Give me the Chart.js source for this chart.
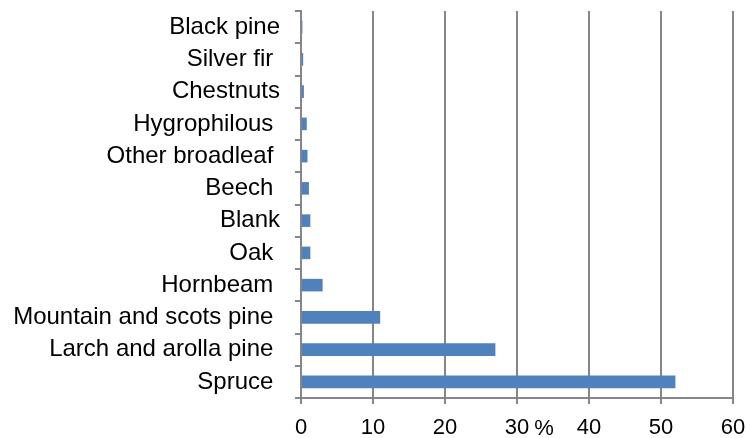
<!DOCTYPE html>
<html>
<head>
<meta charset="utf-8">
<script src="https://cdn.jsdelivr.net/npm/chart.js@4/dist/chart.umd.min.js"></script>
<style>
  html, body { margin: 0; padding: 0; background: #ffffff; }
  #wrap { width: 746px; height: 438px; }
</style>
</head>
<body>
<div id="wrap"><canvas id="c" width="746" height="438"></canvas></div>
<script>
// Forest types, listed top to bottom
const categories = [
  'Black pine', 'Silver fir ', 'Chestnuts', 'Hygrophilous ', 'Other broadleaf ',
  'Beech ', 'Blank', 'Oak ', 'Hornbeam ', 'Mountain and scots pine ',
  'Larch and arolla pine ', 'Spruce '
];
// Share of area, percent
const shares = [0.2, 0.3, 0.4, 0.8, 0.9, 1.1, 1.3, 1.3, 3.0, 11, 27, 52];
// Value axis ticks
const xTicks = [0, 10, 20, 30, 40, 50, 60];
const unitLabel = '%';
const unitTick = 30;

const FAMILY = '"Liberation Sans", Arial, sans-serif';
const CAT_FONT = { family: FAMILY, size: 24 };
const VAL_FONT = { family: FAMILY, size: 22 };
const GRID = '#868686';

// Writes the unit sign just after the tick label it belongs to
const unitSign = {
  id: 'unitSign',
  afterDraw(chart) {
    const x = chart.scales.x;
    const ctx = chart.ctx;
    ctx.save();
    ctx.font = `${VAL_FONT.size}px ${FAMILY}`;
    ctx.fillStyle = '#000000';
    ctx.textBaseline = 'middle';
    ctx.textAlign = 'left';
    const px = x.getPixelForValue(unitTick);
    const w = ctx.measureText(String(unitTick)).width;
    ctx.fillText(unitLabel, px + w / 2 + 5, 429);
    ctx.restore();
  }
};

new Chart(document.getElementById('c'), {
  type: 'bar',
  data: {
    labels: categories,
    datasets: [{
      data: shares,
      backgroundColor: '#4F81BD',
      borderWidth: 0,
      barPercentage: 0.39,
      categoryPercentage: 1.0
    }]
  },
  options: {
    indexAxis: 'y',
    responsive: false,
    animation: false,
    layout: { padding: { top: 11, right: 13, left: 0, bottom: 0 } },
    plugins: { legend: { display: false }, tooltip: { enabled: false } },
    scales: {
      x: {
        min: 0, max: 60,
        afterBuildTicks(scale) { scale.ticks = xTicks.map(v => ({ value: v })); },
        afterFit(scale) { scale.height = 40; scale.paddingLeft = 0; scale.paddingRight = 0; },
        grid: { color: GRID, lineWidth: 2, tickLength: 6, drawTicks: true },
        border: { color: GRID, width: 2 },
        ticks: { color: '#000000', font: VAL_FONT, padding: 11, maxRotation: 0 }
      },
      y: {
        afterFit(scale) { scale.width = 301; scale.paddingTop = 0; scale.paddingBottom = 0; },
        grid: { drawOnChartArea: false, drawTicks: true, tickLength: 6, color: GRID, lineWidth: 2, offset: true },
        border: { color: GRID, width: 2 },
        ticks: { color: '#000000', font: CAT_FONT, padding: 15, autoSkip: false }
      }
    }
  },
  plugins: [unitSign]
});
</script>
</body>
</html>
